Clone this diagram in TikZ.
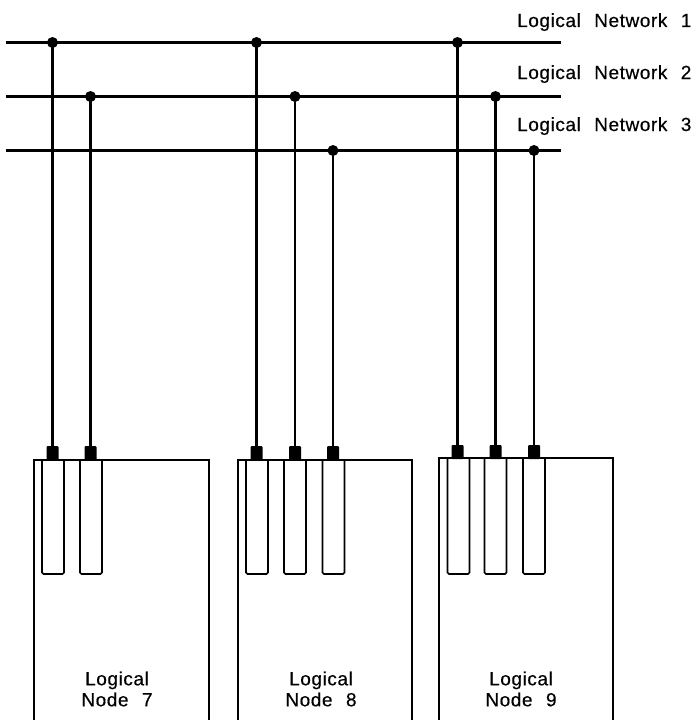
\documentclass[tikz,border=0pt]{standalone}
\usepackage{fontspec}
\newfontfamily\lblfont[LetterSpace=3,WordSpace=2.3,FakeBold=0.4]{Liberation Sans}
\begin{document}
\begin{tikzpicture}[x=1pt,y=-1pt,
  netline/.style={line width=2.6pt},
  drop/.style={line width=2.5pt},
  boxline/.style={line width=2pt},
  slotbox/.style={draw,line width=1.7pt,rounded corners=1.5pt},
  junction/.style={circle,fill=black,inner sep=0pt,minimum size=11pt},
  plug/.style={rectangle,fill=black,inner sep=0pt,minimum width=12pt,minimum height=14pt,rounded corners=1pt},
  netlabel/.style={anchor=base west,inner sep=0pt,font=\lblfont\fontsize{19}{22}\selectfont},
  nodelabel/.style={align=center,inner sep=0pt,font=\lblfont\fontsize{19}{21}\selectfont}
]
\useasboundingbox (0,0) rectangle (700,720);

% network lines
\coordinate (n1w) at (6,42.5);  \coordinate (n1e) at (561,42.5);
\coordinate (n2w) at (6,96.5);  \coordinate (n2e) at (561,96.5);
\coordinate (n3w) at (6,150.5); \coordinate (n3e) at (561,150.5);
\draw[netline] (n1w) -- (n1e);
\draw[netline] (n2w) -- (n2e);
\draw[netline] (n3w) -- (n3e);

\node[netlabel] (lab1) at (517,27) {Logical Network 1};
\node[netlabel] (lab2) at (517,79) {Logical Network 2};
\node[netlabel] (lab3) at (517,131) {Logical Network 3};

% node boxes (open at bottom edge)
\draw[boxline] (34,720) -- (34,460) -- (209,460) -- (209,720);
\draw[boxline] (238,720) -- (238,460) -- (412,460) -- (412,720);
\draw[boxline] (439,720) -- (439,458) -- (613,458) -- (613,720);

% slots
\foreach \x/\t in {53/460,91/460,257/460,295/460,333.5/460,458.5/458,495.5/458,534/458}{
  \draw[slotbox] (\x-11,\t) -- (\x-11,574) -- (\x+11,574) -- (\x+11,\t);
}

% plugs (connector blocks)
\node[plug] (p71) at (52.5,453) {};
\node[plug] (p72) at (90.5,453) {};
\node[plug] (p81) at (256.5,453) {};
\node[plug] (p82) at (295,453) {};
\node[plug] (p83) at (333,453) {};
\node[plug] (p91) at (457.5,452) {};
\node[plug] (p92) at (495.5,452) {};
\node[plug] (p93) at (534,452) {};

% junctions
\node[junction] (j71) at (52.5,42.5) {};
\node[junction] (j72) at (90.5,96.5) {};
\node[junction] (j81) at (256.5,42.5) {};
\node[junction] (j82) at (295,96.5) {};
\node[junction] (j83) at (333,150.5) {};
\node[junction] (j91) at (457.5,42.5) {};
\node[junction] (j92) at (495.5,96.5) {};
\node[junction] (j93) at (534,150.5) {};

% drops
\foreach \a/\b in {j71/p71,j72/p72,j81/p81,j82/p82,j83/p83,j91/p91,j92/p92,j93/p93}{
  \draw[drop] (\a.center) -- (\b.north);
}

% node labels
\node[nodelabel] (ln7) at (117,689) {Logical\\Node 7};
\node[nodelabel] (ln8) at (321,689) {Logical\\Node 8};
\node[nodelabel] (ln9) at (521,689) {Logical\\Node 9};
\end{tikzpicture}
\end{document}
